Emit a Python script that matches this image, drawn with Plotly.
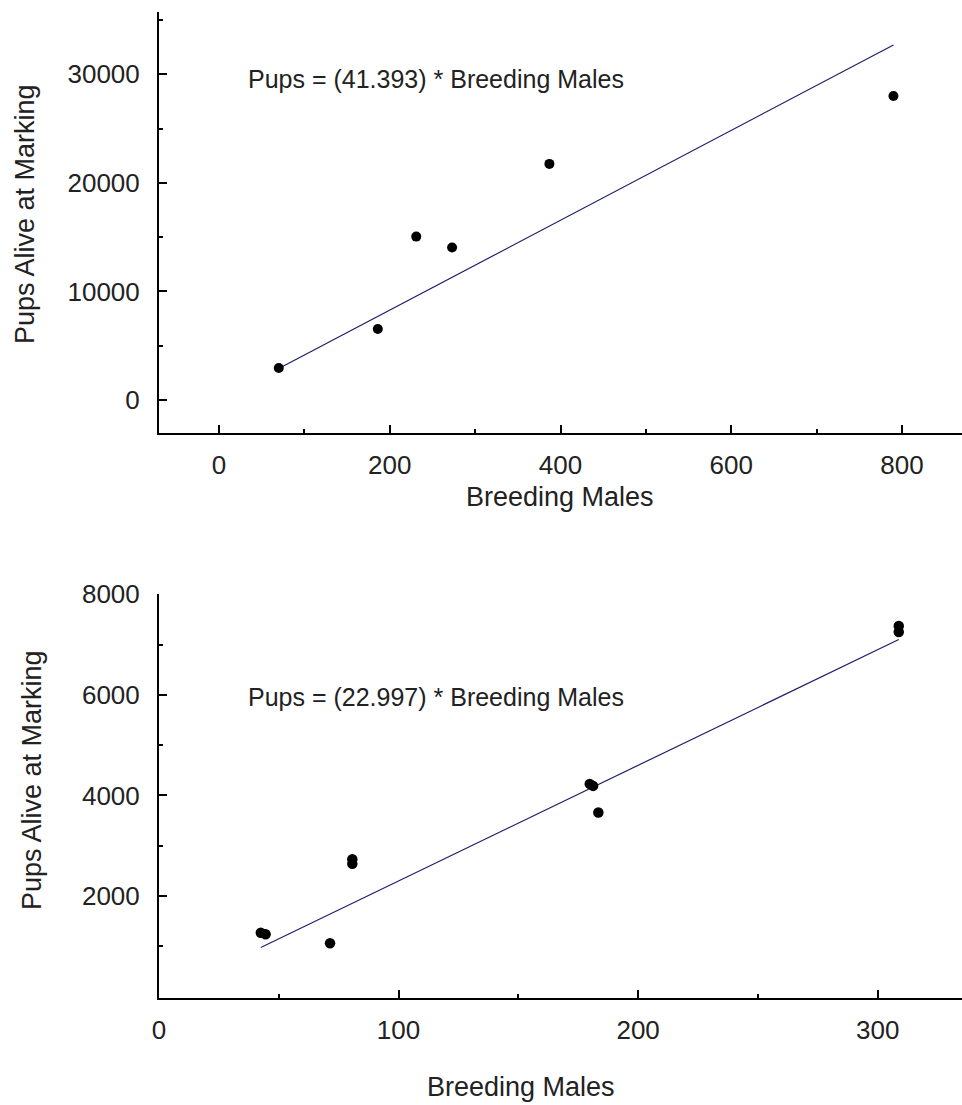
import plotly.graph_objects as go

# ---- data ----
top_males = [70, 186, 231, 273, 387, 790]
top_pups = [2950, 6540, 15050, 14050, 21750, 28000]
top_slope = 41.393

bot_males = [42.5, 44.5, 71.4, 80.7, 80.7, 179.8, 181.2, 183.4, 308.8, 308.8]
bot_pups = [1270, 1240, 1060, 2730, 2640, 4230, 4190, 3660, 7370, 7250]
bot_slope = 22.997

top_xticks = [0, 200, 400, 600, 800]
top_xminor = [100, 300, 500, 700]
top_yticks = [0, 10000, 20000, 30000]
top_yminor = [5000, 15000, 25000, 35000]
bot_xticks = [0, 100, 200, 300]
bot_xminor = [50, 150, 250]
bot_yticks = [2000, 4000, 6000, 8000]
bot_yminor = [1000, 3000, 5000, 7000]

x_title = "Breeding Males"
y_title = "Pups Alive at Marking"
top_eq = "Pups = (41.393) * Breeding Males"
bot_eq = "Pups = (22.997) * Breeding Males"

W, H = 962, 1105
FONT = "Liberation Sans, Arial, sans-serif"
LINE_COLOR = "#1f1f6b"
TEXT_COLOR = "#222222"

def fit_line(xs, slope):
    x0, x1 = min(xs), max(xs)
    return [x0, x1], [slope * x0, slope * x1]

fig = go.Figure()

lx, ly = fit_line(top_males, top_slope)
fig.add_trace(go.Scatter(x=lx, y=ly, mode="lines", line=dict(color=LINE_COLOR, width=1.2),
                         xaxis="x", yaxis="y", showlegend=False))
fig.add_trace(go.Scatter(x=top_males, y=top_pups, mode="markers",
                         marker=dict(color="black", size=10), xaxis="x", yaxis="y", showlegend=False))

lx, ly = fit_line(bot_males, bot_slope)
fig.add_trace(go.Scatter(x=lx, y=ly, mode="lines", line=dict(color=LINE_COLOR, width=1.2),
                         xaxis="x2", yaxis="y2", showlegend=False))
fig.add_trace(go.Scatter(x=bot_males, y=bot_pups, mode="markers",
                         marker=dict(color="black", size=10.5), xaxis="x2", yaxis="y2", showlegend=False))

def px_x(p):
    return p / W

def px_y(p):
    return 1 - p / H

minor_style = dict(ticks="inside", ticklen=4, tickwidth=1.5, tickcolor="black")

axis_common = dict(
    showgrid=False, zeroline=False, showline=True, linecolor="black", linewidth=2,
    ticks="inside", ticklen=8, tickwidth=1.5, tickcolor="black",
    tickfont=dict(family=FONT, size=26, color=TEXT_COLOR),
    tickmode="array", automargin=False, fixedrange=True,
)

fig.update_layout(
    template="none",
    width=W, height=H,
    margin=dict(l=0, r=0, t=0, b=0, pad=0, autoexpand=False),
    paper_bgcolor="white", plot_bgcolor="white",
    showlegend=False,
    xaxis=dict(axis_common, domain=[px_x(159), 1], range=[-70.3, 870.3], anchor="y",
               tickvals=top_xticks, ticktext=[str(v) for v in top_xticks],
               minor=dict(minor_style, tickvals=top_xminor),
               ticklabelstandoff=8),
    yaxis=dict(axis_common, domain=[px_y(433), px_y(12)], range=[-3040, 35740], anchor="x",
               tickvals=top_yticks, ticktext=[str(v) for v in top_yticks],
               minor=dict(minor_style, tickvals=top_yminor),
               ticklabelstandoff=12),
    xaxis2=dict(axis_common, domain=[px_x(159), 1], range=[0, 335.2], anchor="y2",
                tickvals=bot_xticks, ticktext=[str(v) for v in bot_xticks],
                minor=dict(minor_style, tickvals=bot_xminor),
                ticklabelstandoff=8),
    yaxis2=dict(axis_common, domain=[px_y(997.7), px_y(593.7)], range=[-22, 8012], anchor="x2",
                tickvals=bot_yticks, ticktext=[str(v) for v in bot_yticks],
                minor=dict(minor_style, tickvals=bot_yminor),
                ticklabelstandoff=12),
)

title_font = dict(family=FONT, size=27, color=TEXT_COLOR)
eq_font = dict(family=FONT, size=25, color=TEXT_COLOR)

annotations = [
    dict(text=x_title, x=px_x(560), y=px_y(497), xref="paper", yref="paper",
         showarrow=False, font=title_font, xanchor="center", yanchor="middle"),
    dict(text=x_title, x=px_x(521), y=px_y(1087), xref="paper", yref="paper",
         showarrow=False, font=title_font, xanchor="center", yanchor="middle"),
    dict(text=y_title, x=px_x(25), y=px_y(214), xref="paper", yref="paper", textangle=-90,
         showarrow=False, font=title_font, xanchor="center", yanchor="middle"),
    dict(text=y_title, x=px_x(32), y=px_y(780), xref="paper", yref="paper", textangle=-90,
         showarrow=False, font=title_font, xanchor="center", yanchor="middle"),
    dict(text=top_eq, x=px_x(246), y=px_y(79), xref="paper", yref="paper",
         showarrow=False, font=eq_font, xanchor="left", yanchor="middle"),
    dict(text=bot_eq, x=px_x(246), y=px_y(697), xref="paper", yref="paper",
         showarrow=False, font=eq_font, xanchor="left", yanchor="middle"),
]
fig.update_layout(annotations=annotations)

fig.write_html("out.html", config={"displayModeBar": False})
